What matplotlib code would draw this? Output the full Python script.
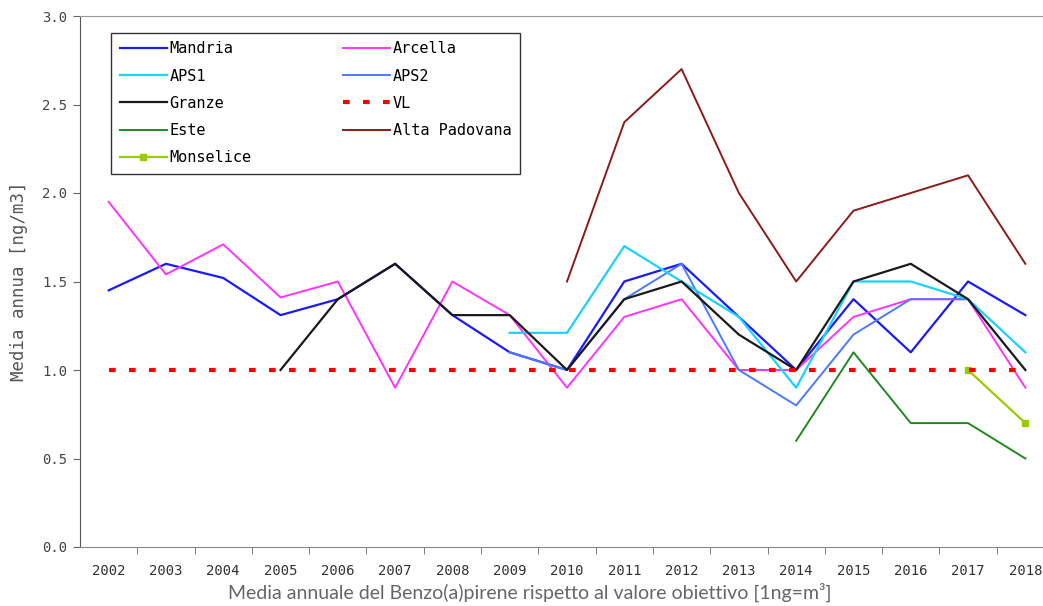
import numpy as np
import matplotlib.pyplot as plt
from matplotlib.ticker import FixedLocator

nan = np.nan
years = list(range(2002, 2019))
yticks = [0.0, 0.5, 1.0, 1.5, 2.0, 2.5, 3.0]

mandria  = [1.45, 1.6, 1.52, 1.31, 1.4, 1.6, 1.31, 1.1, 1.0, 1.5, 1.6, 1.3, 1.0, 1.4, 1.1, 1.5, 1.31]
arcella  = [1.95, 1.54, 1.71, 1.41, 1.5, 0.9, 1.5, 1.31, 0.9, 1.3, 1.4, 1.0, 1.0, 1.3, 1.4, 1.4, 0.9]
aps1     = [nan, nan, nan, nan, nan, nan, nan, 1.21, 1.21, 1.7, 1.5, 1.3, 0.9, 1.5, 1.5, 1.4, 1.1]
aps2     = [nan, nan, nan, nan, nan, nan, nan, 1.1, 1.0, 1.4, 1.6, 1.0, 0.8, 1.2, 1.4, 1.4, nan]
granze   = [nan, nan, nan, 1.0, 1.4, 1.6, 1.31, 1.31, 1.0, 1.4, 1.5, 1.2, 1.0, 1.5, 1.6, 1.4, 1.0]
vl       = [1.0] * 17
este     = [nan] * 12 + [0.6, 1.1, 0.7, 0.7, 0.5]
alta_pad = [nan] * 8 + [1.5, 2.4, 2.7, 2.0, 1.5, 1.9, 2.0, 2.1, 1.6]
monselice = [nan] * 15 + [1.0, 0.7]

fig = plt.figure(figsize=(10.43, 6.06), dpi=100)
ax = fig.add_axes([80/1043, 59/606, 974/1043, 531/606])

mono = 'DejaVu Sans Mono'

l_mand, = ax.plot(years, mandria, color='#1a1aff', lw=1.6, label='Mandria')
l_arc, = ax.plot(years, arcella, color='#ff33ff', lw=1.4, label='Arcella')
l_aps2, = ax.plot(years, aps2, color='#4d79ff', lw=1.4, label='APS2')
l_aps1, = ax.plot(years, aps1, color='#1ad1ff', lw=1.6, label='APS1')
l_gra, = ax.plot(years, granze, color='#1a1a1a', lw=1.6, label='Granze')
l_este, = ax.plot(years, este, color='#1f8a1f', lw=1.4, label='Este')
l_alta, = ax.plot(years, alta_pad, color='#8b1a1a', lw=1.4, label='Alta Padovana')
l_mon, = ax.plot(years, monselice, color='#99cc00', lw=1.6, marker='s', ms=4,
                 label='Monselice')
l_vl, = ax.plot(years, vl, color='#ff0000', lw=3, ls=(0, (1.6, 3.2)), label='VL', zorder=3)

ax.set_xlim(2001.5, 2018.5)
ax.set_ylim(0, 3.0)
ax.set_yticks(yticks)
ax.set_yticklabels(['%.1f' % v for v in yticks], family=mono, fontsize=10, color='#444444')
ax.set_xticks(years)
ax.set_xticklabels([str(y) for y in years], family=mono, fontsize=10, color='#333333')
ax.xaxis.set_minor_locator(FixedLocator([y + 0.5 for y in years[:-1]]))
ax.tick_params(axis='x', which='major', length=0, pad=12)
ax.tick_params(axis='x', which='minor', length=5, color='#666666', direction='out')
ax.tick_params(axis='y', length=5, color='#666666', direction='out', pad=4)

ax.spines['left'].set_color('#555555')
ax.spines['bottom'].set_color('#888888')
ax.spines['top'].set_color('#999999')
ax.spines['right'].set_visible(False)

ax.set_ylabel('Media annua [ng/m3]', family=mono, fontsize=12.5, color='#555555', labelpad=10)

handles = [l_mand, l_aps1, l_gra, l_este, l_mon, l_arc, l_aps2, l_vl, l_alta]
leg = ax.legend(handles=handles, ncol=2, loc='upper left', bbox_to_anchor=(0.032, 0.968),
                borderaxespad=0, prop={'family': mono, 'size': 11}, frameon=True,
                fancybox=False, edgecolor='black', handlelength=3.1, handletextpad=0.15,
                columnspacing=6.0, labelspacing=0.8, borderpad=0.55)
leg.get_frame().set_linewidth(1.0)

fig.text(530/1043, 1 - 592/606, 'Media annuale del Benzo(a)pirene rispetto al valore obiettivo [1ng=m³]',
         ha='center', va='center', fontsize=14, color='#666666', family='Lato')

fig.savefig('out.png', dpi=100)
